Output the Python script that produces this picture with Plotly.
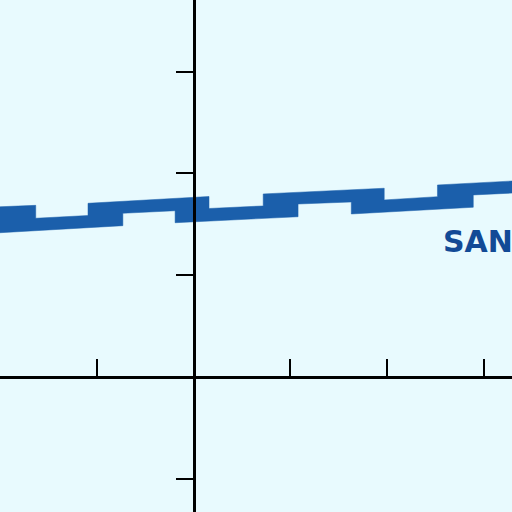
import plotly.graph_objects as go

# band outline, axis units (1 tick = 1 unit)
top_x = [-2.05, -1.63, -1.63, -1.09, -1.09, 0.16, 0.16, 0.72, 0.72, 1.97, 1.97, 2.52, 2.52, 3.35]
top_y = [1.671, 1.687, 1.560, 1.587, 1.707, 1.774, 1.656, 1.681, 1.799, 1.855, 1.740, 1.772, 1.887, 1.929]
bottom_x = [-2.05, -0.73, -0.73, -0.19, -0.19, 1.08, 1.08, 1.63, 1.63, 2.89, 2.89, 3.35]
bottom_y = [1.415, 1.487, 1.609, 1.634, 1.516, 1.575, 1.700, 1.720, 1.602, 1.668, 1.789, 1.810]

x_ticks = [-2, -1, 1, 2, 3]
y_ticks = [-1, 1, 2, 3]

label_text = "SAN"
label_x = 2.56
label_y = 1.33

band_color = "#1b5fab"
bg = "#e8fafe"

fig = go.Figure()
fig.add_trace(go.Scatter(
    x=top_x + bottom_x[::-1],
    y=top_y + bottom_y[::-1],
    fill="toself",
    fillcolor=band_color,
    line=dict(color=band_color, width=0.5),
    mode="lines",
    hoverinfo="skip",
    showlegend=False,
))

fig.add_annotation(
    x=label_x, y=label_y, xref="x", yref="y",
    text="<b>" + label_text + "</b>",
    showarrow=False, xanchor="left", yanchor="middle",
    font=dict(family="DejaVu Sans", size=30, color="#124a96"),
)

fig.update_layout(
    width=512, height=512,
    margin=dict(l=0, r=0, t=0, b=0),
    paper_bgcolor=bg, plot_bgcolor=bg,
    showlegend=False,
    xaxis=dict(
        range=[-1.999, 3.29], anchor="free", position=1 - 377 / 512,
        showline=True, linecolor="black", linewidth=2.5,
        ticks="inside", ticklen=17, tickwidth=2, tickcolor="black",
        tickvals=x_ticks, showticklabels=False,
        showgrid=False, zeroline=False,
    ),
    yaxis=dict(
        range=[-1.327, 3.705], anchor="free", position=193.5 / 512,
        showline=True, linecolor="black", linewidth=2.5,
        ticks="outside", ticklen=17, tickwidth=2, tickcolor="black",
        tickvals=y_ticks, showticklabels=False,
        showgrid=False, zeroline=False,
    ),
)

# page has a default 8px body margin, drop it so the figure fills the window
fig.write_html(
    "out.html",
    config={"displayModeBar": False},
    post_script="document.body.style.margin='0';document.body.style.overflow='hidden';",
)
